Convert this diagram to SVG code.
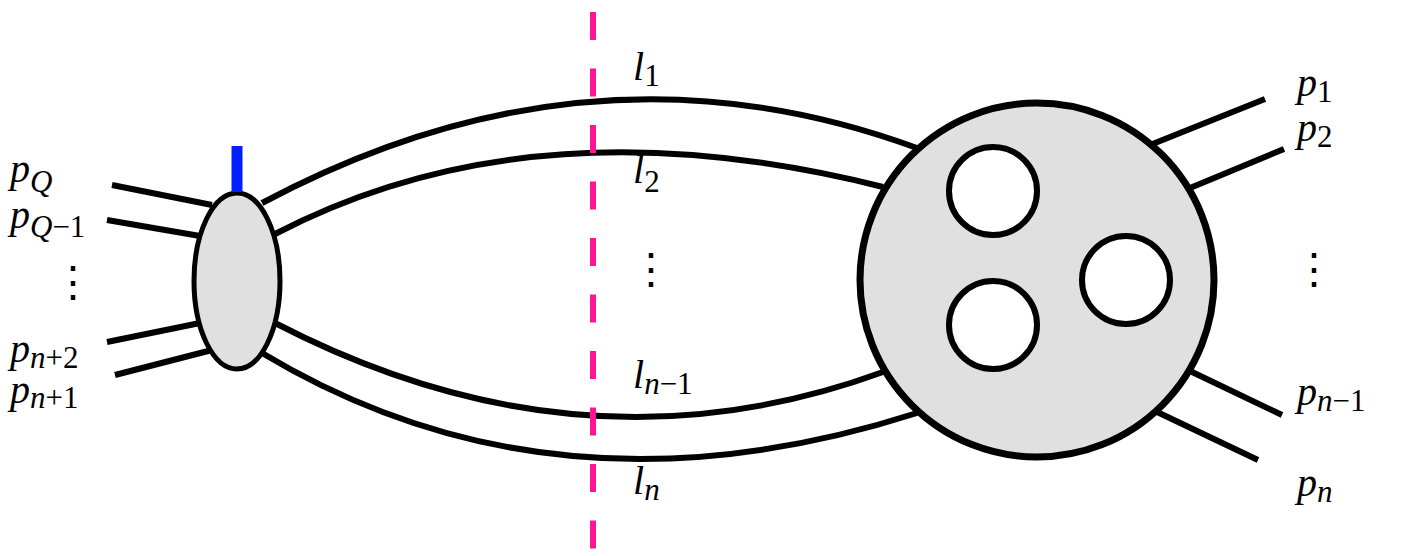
<svg xmlns="http://www.w3.org/2000/svg" width="1417" height="556" viewBox="0 0 1417 556">
<style>
.ln{fill:none;stroke:#000;stroke-width:6;stroke-linecap:butt}
.blob{fill:#e0e0e0;stroke:#000}
.hole{fill:#fff;stroke:#000;stroke-width:6}
.m{font-family:'Liberation Serif',serif;font-style:italic;font-size:40px;fill:#000}
.s{font-size:31px}
.u{font-style:normal}
.dots{font-family:'DejaVu Serif',serif;font-size:42px;fill:#000}
</style>
<rect width="1417" height="556" fill="#fff"/>
<g id="connectors">
<line class="ln" x1="112" y1="185" x2="212" y2="205"/>
<line class="ln" x1="107" y1="220" x2="200" y2="236"/>
<line class="ln" x1="107" y1="342" x2="200" y2="323"/>
<line class="ln" x1="115" y1="375" x2="212" y2="350"/>
<path class="ln" d="M262,203 Q590,28 917,148"/>
<path class="ln" d="M275,234 Q534,99 883,187"/>
<path class="ln" d="M275,323 Q582,482 883,372"/>
<path class="ln" d="M262,353 Q555,529 917,413"/>
<line class="ln" x1="1150" y1="145" x2="1265" y2="99"/>
<line class="ln" x1="1190" y1="188" x2="1284" y2="149"/>
<line class="ln" x1="1190" y1="371" x2="1282" y2="415"/>
<line class="ln" x1="1155" y1="411" x2="1258" y2="460"/>
<line x1="593" y1="12" x2="593" y2="549" stroke="#ff1493" stroke-width="6" stroke-dasharray="28 28.5"/>
</g>
<g id="vertex-left">
<ellipse class="blob" cx="237" cy="281" rx="43" ry="88" stroke-width="5"/>
<line x1="237" y1="146" x2="237" y2="192" stroke="#0020ff" stroke-width="11"/>
</g>
<g id="vertex-right">
<circle class="blob" cx="1037" cy="280" r="177" stroke-width="7"/>
<circle class="hole" cx="993" cy="191" r="44"/>
<circle class="hole" cx="993" cy="325" r="44"/>
<circle class="hole" cx="1126" cy="280" r="44"/>
</g>
<g id="labels">
<text class="m" x="10" y="182">p<tspan class="s" dy="10">Q</tspan></text>
<text class="m" x="10" y="228">p<tspan class="s" dy="9">Q<tspan class="u">−1</tspan></tspan></text>
<text class="dots" x="52" y="296">⋮</text>
<text class="m" x="10" y="362">p<tspan class="s" dy="6">n<tspan class="u">+2</tspan></tspan></text>
<text class="m" x="10" y="403">p<tspan class="s" dy="5">n<tspan class="u">+1</tspan></tspan></text>
<text class="m" x="633" y="80">l<tspan class="s u" dy="6">1</tspan></text>
<text class="m" x="633" y="183">l<tspan class="s u" dy="9">2</tspan></text>
<text class="dots" x="630" y="283">⋮</text>
<text class="m" x="633" y="388">l<tspan class="s" dy="6">n<tspan class="u">−1</tspan></tspan></text>
<text class="m" x="633" y="494">l<tspan class="s" dy="6">n</tspan></text>
<text class="m" x="1297" y="96">p<tspan class="s u" dy="6">1</tspan></text>
<text class="m" x="1297" y="141">p<tspan class="s u" dy="6">2</tspan></text>
<text class="dots" x="1293" y="283">⋮</text>
<text class="m" x="1297" y="405">p<tspan class="s" dy="6">n<tspan class="u">−1</tspan></tspan></text>
<text class="m" x="1297" y="496">p<tspan class="s" dy="6">n</tspan></text>
</g>
</svg>
